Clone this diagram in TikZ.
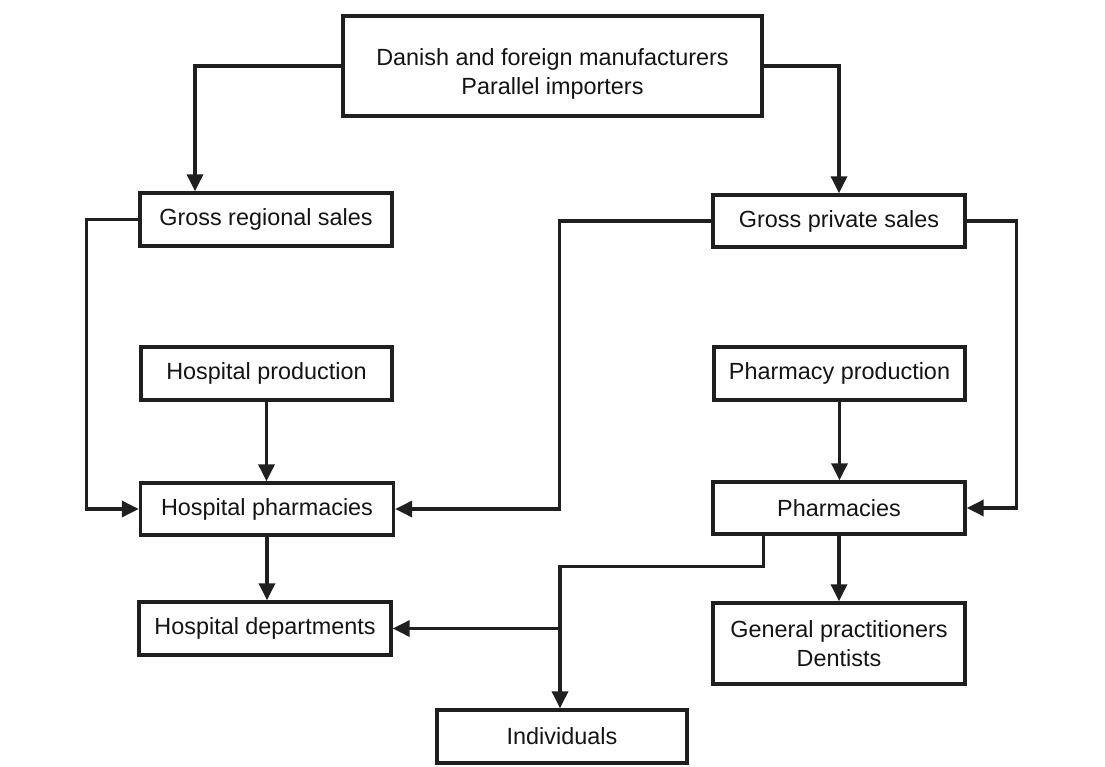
\documentclass[tikz,border=0pt]{standalone}
\usepackage{fontspec}
\setmainfont{Liberation Sans}
\usetikzlibrary{arrows.meta}
\begin{document}
\begin{tikzpicture}[x=1pt,y=-1pt,
  box/.style={draw=black!88,line width=3.4pt,fill=white,align=center,inner sep=0pt,
    font=\fontsize{23.4}{29}\selectfont,text=black!92},
  arr/.style={draw=black!88,line width=3.4pt,-{Triangle[length=17pt,width=16pt]}},
  link/.style={draw=black!88,line width=3.4pt}]
\useasboundingbox[fill=white] (0,0) rectangle (1105,767);

% boxes
\node[box,minimum width=419pt,minimum height=100pt] (top) at (552.5,66) {\rule{0pt}{33pt}Danish and foreign manufacturers\\Parallel importers};
\node[box,minimum width=252pt,minimum height=53pt] (greg) at (266,219.5) {Gross regional sales};
\node[box,minimum width=252pt,minimum height=52pt] (gpriv) at (839,221) {Gross private sales};
\node[box,minimum width=251pt,minimum height=53pt] (hprod) at (266.5,373.5) {Hospital production};
\node[box,minimum width=251pt,minimum height=53pt] (pprod) at (839.5,373.5) {Pharmacy production};
\node[box,minimum width=253pt,minimum height=52pt] (hpharm) at (267,509) {Hospital pharmacies};
\node[box,minimum width=252pt,minimum height=52pt] (pharm) at (839,508) {Pharmacies};
\node[box,minimum width=252pt,minimum height=53pt] (hdept) at (265,628.5) {Hospital departments};
\node[box,minimum width=252pt,minimum height=81pt] (gp) at (839,643.5) {General practitioners\\Dentists};
\node[box,minimum width=250pt,minimum height=53pt] (indiv) at (562,736.5) {Individuals};

% supply from manufacturers
\draw[arr] (top.west) -| ([xshift=-71pt]greg.north);
\draw[arr] (top.east) -| (gpriv.north);

% regional and private wholesale
\draw[arr] (greg.west) -- ++(-52,0) |- (hpharm.west);
\draw[arr] (gpriv.west) -- ++(-152,0) |- (hpharm.east);
\draw[arr] (gpriv.east) -- ++(50,0) |- (pharm.east);

% production
\draw[arr] (hprod.south) -- (hprod.south |- hpharm.north);
\draw[arr] (pprod.south) -- (pprod.south |- pharm.north);

% distribution
\draw[arr] (hpharm.south) -- (hpharm.south |- hdept.north);
\draw[arr] (pharm.south) -- (pharm.south |- gp.north);
\coordinate (drop) at ([xshift=52pt]pharm.south west);
\coordinate (split) at ([xshift=-2pt]indiv.north |- hdept.east);
\draw[arr] (drop) -- ++(0,31) -| ([xshift=-2pt]indiv.north);
\draw[arr] (split) -- (hdept.east);
\end{tikzpicture}
\end{document}
